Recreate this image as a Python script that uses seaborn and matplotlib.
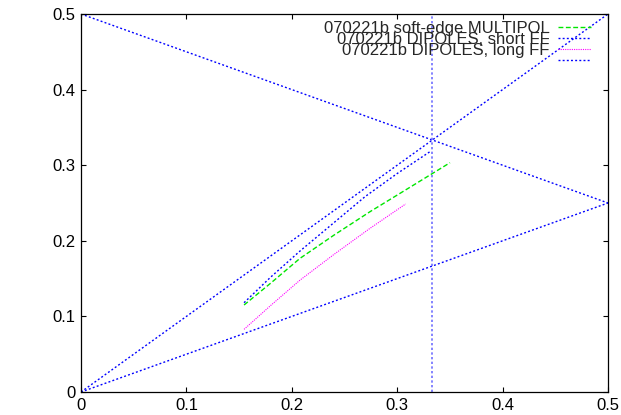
import numpy as np
import pandas as pd
import matplotlib
matplotlib.use("Agg")
import matplotlib.pyplot as plt
import seaborn as sns

# --- data (tune curves) ---
multipol_x = [0.1547, 0.1800, 0.2078, 0.2400, 0.2742, 0.3100, 0.3501]
multipol_y = [0.1151, 0.1440, 0.1768, 0.2075, 0.2385, 0.2690, 0.3033]

short_x = [0.1547, 0.1800, 0.2078, 0.2400, 0.2694, 0.3000, 0.3311]
short_y = [0.1181, 0.1520, 0.1865, 0.2240, 0.2583, 0.2890, 0.3179]

long_x = [0.1547, 0.1800, 0.2078, 0.2400, 0.2742, 0.3080]
long_y = [0.0829, 0.1145, 0.1480, 0.1820, 0.2165, 0.2487]

# resonance lines (segments)
res_diag_x = [0.0, 0.5]
res_diag_y = [0.0, 0.5]
res_down_x = [0.0, 0.5]
res_down_y = [0.5, 0.25]
res_half_x = [0.0, 0.5]
res_half_y = [0.0, 0.25]
res_third_x = [1/3, 1/3]
res_third_y = [0.0, 0.5]

labels = ["070221b soft-edge MULTIPOL", "070221b DIPOLES, short FF",
          "070221b DIPOLES, long FF", ""]
ticks = [0, 0.1, 0.2, 0.3, 0.4, 0.5]
tick_labels = ["0", "0.1", "0.2", "0.3", "0.4", "0.5"]

sns.set_style("ticks")
plt.rcParams["font.family"] = ["Liberation Sans", "DejaVu Sans"]

fig = plt.figure(figsize=(6.21, 4.15), dpi=100)
ax = fig.add_axes([81/621, 1-392/415, (608-81)/621, (392-14)/415])

blue = "#0000ff"
sns.lineplot(x=multipol_x, y=multipol_y, ax=ax, color="#00e600", lw=1.0,
             sort=False, estimator=None)
l1 = ax.lines[-1]; l1.set_dashes((3.5, 1.8))
sns.lineplot(x=short_x, y=short_y, ax=ax, color=blue, lw=1.0, sort=False, estimator=None)
l2 = ax.lines[-1]; l2.set_dashes((1.4, 1.6))
sns.lineplot(x=long_x, y=long_y, ax=ax, color="#ff00ff", lw=0.8, sort=False, estimator=None)
l3 = ax.lines[-1]; l3.set_dashes((1.0, 1.0))
res_lines = []
for xs, ys in [(res_diag_x, res_diag_y), (res_down_x, res_down_y), (res_half_x, res_half_y)]:
    sns.lineplot(x=xs, y=ys, ax=ax, color=blue, lw=1.0, sort=False, estimator=None)
    ax.lines[-1].set_dashes((1.4, 1.6))
    res_lines.append(ax.lines[-1])
sns.lineplot(x=res_third_x, y=res_third_y, ax=ax, color="#7070ff", lw=1.2,
             sort=False, estimator=None, orient="y")
ax.lines[-1].set_dashes((1.4, 1.4))

ax.set_xlim(0, 0.5)
ax.set_ylim(0, 0.5)
ax.set_xticks(ticks)
ax.set_xticklabels(tick_labels)
ax.set_yticks(ticks)
ax.set_yticklabels(tick_labels)
ax.tick_params(direction="in", length=3.5, width=0.8, top=True, right=True,
               labelsize=12, colors="black", pad=4)
for s in ax.spines.values():
    s.set_color("black"); s.set_linewidth(0.9); s.set_visible(True)
ax.set_xlabel(""); ax.set_ylabel("")

leg = ax.legend([l1, l2, l3, res_lines[0]], labels, loc="upper right",
                bbox_to_anchor=(1 - 17/527, 1 - 7/378),
                markerfirst=False, frameon=False, fontsize=12,
                handlelength=2.0, handletextpad=0.5, labelspacing=-0.24,
                borderaxespad=0.0, borderpad=0.0)

fig.savefig("out.png", dpi=100)
